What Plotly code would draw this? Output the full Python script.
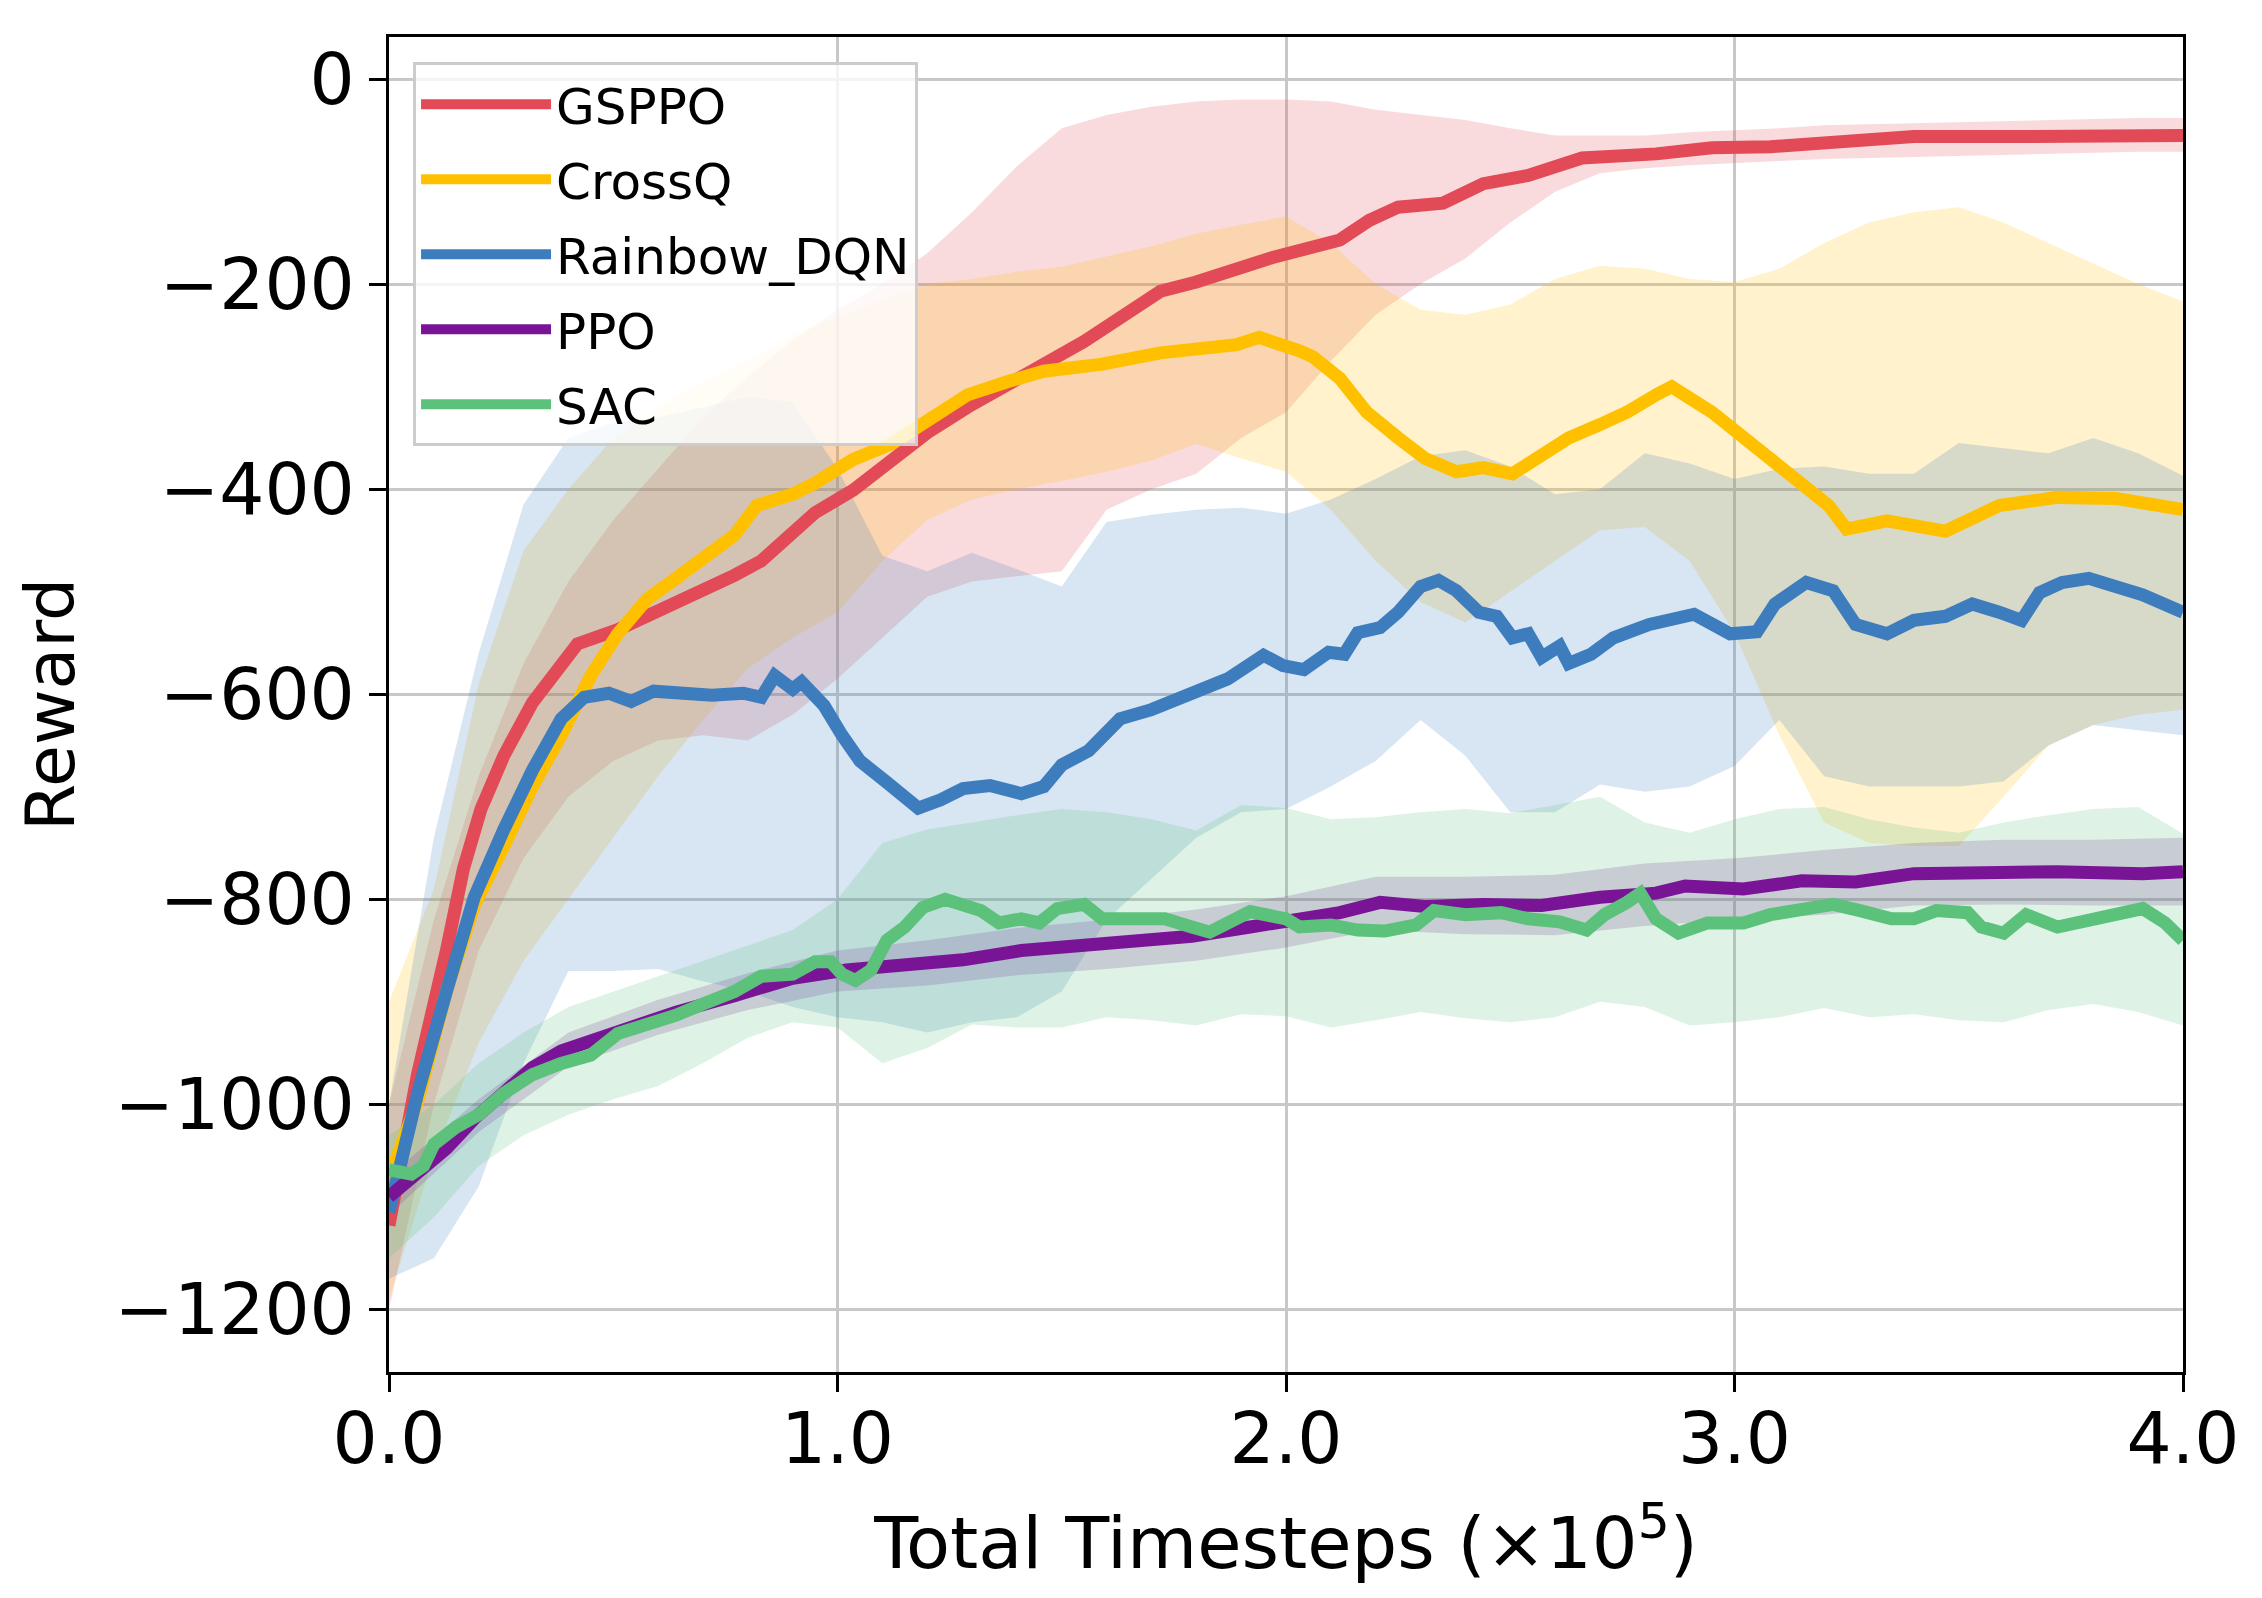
import plotly.graph_objects as go

# ---------------- data ----------------
SERIES = ["GSPPO", "CrossQ", "Rainbow_DQN", "PPO", "SAC"]

# mean curves
gsppo_x = [0, 0.032, 0.064, 0.128, 0.166, 0.205, 0.256, 0.32, 0.384, 0.42,
           0.51, 0.64, 0.694, 0.77, 0.83, 0.95, 1.035, 1.2, 1.29, 1.38,
           1.55, 1.72, 1.80, 1.97, 2.06, 2.12, 2.185, 2.25, 2.35, 2.44,
           2.54, 2.66, 2.825, 2.95, 3.08, 3.21, 3.40, 3.66, 4.0]
gsppo_y = [-1118, -1040, -970, -850, -770, -712, -660, -608, -570, -551,
           -537, -510, -502, -484, -470, -423, -401, -345, -320, -297,
           -256, -207, -198, -174, -165, -157, -138, -125, -121, -102,
           -94, -77, -73, -67, -66, -61, -56, -56, -55]

crossq_x = [0, 0.064, 0.128, 0.19, 0.256, 0.32, 0.384, 0.45, 0.51, 0.576,
            0.64, 0.694, 0.77, 0.82, 0.90, 0.95, 1.035, 1.12, 1.2, 1.29,
            1.38, 1.46, 1.59, 1.72, 1.89, 1.94, 2.03, 2.06, 2.12, 2.18,
            2.25, 2.31, 2.38, 2.44, 2.505, 2.57, 2.63, 2.70, 2.76, 2.825,
            2.86, 2.95, 3.02, 3.08, 3.15, 3.21, 3.25, 3.34, 3.47, 3.59,
            3.72, 3.85, 4.0]
crossq_y = [-1072, -997, -890, -806, -748, -690, -640, -582, -541, -507,
            -487, -468, -445, -416, -405, -394, -371, -356, -335, -308,
            -295, -285, -278, -267, -259, -252, -265, -271, -292, -325,
            -350, -370, -383, -379, -385, -366, -350, -337, -325, -308,
            -300, -325, -350, -370, -395, -416, -439, -431, -441, -416,
            -408, -409, -420]

rainbow_x = [0, 0.064, 0.128, 0.19, 0.256, 0.32, 0.384, 0.435, 0.49, 0.54,
             0.59, 0.64, 0.72, 0.79, 0.83, 0.86, 0.90, 0.92, 0.97, 1.01,
             1.05, 1.11, 1.18, 1.23, 1.28, 1.34, 1.41, 1.46, 1.50, 1.56,
             1.63, 1.70, 1.79, 1.87, 1.95, 1.993, 2.04, 2.095, 2.13, 2.16,
             2.21, 2.25, 2.30, 2.34, 2.38, 2.43, 2.47, 2.505, 2.54, 2.57,
             2.61, 2.63, 2.68, 2.73, 2.81, 2.91, 2.99, 3.05, 3.09, 3.16,
             3.22, 3.27, 3.34, 3.40, 3.47, 3.53, 3.59, 3.64, 3.68, 3.73,
             3.79, 3.85, 3.91, 4.0]
rainbow_y = [-1105, -989, -890, -798, -732, -674, -624, -603, -599, -607,
             -597, -599, -601, -599, -603, -582, -595, -588, -611, -640,
             -665, -686, -711, -703, -692, -689, -697, -690, -669, -655,
             -624, -615, -600, -585, -562, -572, -576, -559, -561, -540,
             -535, -520, -495, -489, -499, -520, -524, -545, -541, -564,
             -553, -570, -561, -545, -532, -522, -541, -539, -512, -491,
             -499, -532, -541, -528, -524, -512, -520, -528, -501, -491,
             -487, -495, -503, -520]

ppo_x = [0, 0.064, 0.128, 0.19, 0.256, 0.32, 0.384, 0.45, 0.51, 0.64,
         0.77, 0.90, 1.02, 1.15, 1.28, 1.41, 1.54, 1.66, 1.79, 1.92,
         2.0, 2.12, 2.21, 2.31, 2.44, 2.57, 2.70, 2.825, 2.89, 3.02,
         3.15, 3.27, 3.40, 3.53, 3.72, 3.91, 4.0]
ppo_y = [-1090, -1068, -1043, -1014, -989, -964, -948, -938, -927, -910,
         -894, -877, -869, -865, -859, -850, -846, -842, -836, -827,
         -822, -813, -803, -807, -805, -806, -798, -794, -787, -790,
         -782, -783, -775, -773, -773, -775, -773]

sac_x = [0, 0.05, 0.077, 0.10, 0.15, 0.20, 0.256, 0.32, 0.384, 0.45,
         0.51, 0.576, 0.64, 0.70, 0.77, 0.83, 0.90, 0.95, 0.985, 1.01,
         1.04, 1.075, 1.11, 1.15, 1.19, 1.24, 1.28, 1.32, 1.36, 1.41,
         1.45, 1.49, 1.55, 1.59, 1.64, 1.73, 1.79, 1.83, 1.92, 2.0,
         2.03, 2.10, 2.16, 2.22, 2.29, 2.33, 2.40, 2.48, 2.54, 2.61,
         2.67, 2.71, 2.76, 2.79, 2.825, 2.875, 2.94, 3.02, 3.08, 3.15,
         3.22, 3.28, 3.35, 3.40, 3.45, 3.52, 3.55, 3.60, 3.65, 3.72,
         3.81, 3.87, 3.91, 3.96, 4.0]
sac_y = [-1064, -1068, -1060, -1039, -1022, -1010, -989, -971, -960, -952,
         -931, -923, -913, -902, -890, -875, -873, -861, -861, -873,
         -879, -869, -840, -827, -808, -800, -807, -811, -823, -819,
         -823, -809, -805, -819, -819, -819, -827, -832, -812, -819,
         -827, -825, -830, -831, -825, -811, -815, -813, -819, -822,
         -830, -815, -803, -794, -819, -833, -823, -823, -815, -811,
         -805, -811, -819, -819, -811, -813, -827, -833, -815, -827,
         -819, -811, -809, -823, -840]

# shaded bands (upper / lower envelopes)
band_x = [0.0, 0.1, 0.2, 0.3, 0.4, 0.5, 0.6, 0.7, 0.8, 0.9,
          1.0, 1.1, 1.2, 1.3, 1.4, 1.5, 1.6, 1.7, 1.8, 1.9,
          2.0, 2.1, 2.2, 2.3, 2.4, 2.5, 2.6, 2.7, 2.8, 2.9,
          3.0, 3.1, 3.2, 3.3, 3.4, 3.5, 3.6, 3.7, 3.8, 3.9, 4.0]

gsppo_hi = [-1000, -820, -680, -570, -490, -430, -380, -330, -290, -255,
            -225, -200, -170, -130, -85, -48, -35, -27, -22, -20,
            -20, -22, -30, -35, -40, -48, -55, -55, -55, -52,
            -50, -48, -45, -44, -43, -42, -41, -40, -39, -38, -38]
gsppo_lo = [-1200, -1000, -850, -760, -700, -665, -645, -640, -645, -620,
            -585, -545, -505, -490, -485, -480, -420, -400, -385, -350,
            -325, -275, -230, -200, -175, -140, -110, -92, -87, -84,
            -82, -80, -78, -77, -76, -75, -74, -73, -72, -71, -71]

crossq_hi = [-900, -790, -590, -460, -400, -350, -320, -295, -275, -250,
             -232, -215, -200, -195, -188, -183, -173, -163, -151, -142,
             -134, -160, -200, -225, -230, -220, -195, -182, -185, -195,
             -198, -185, -160, -140, -130, -125, -140, -160, -180, -200, -217]
crossq_lo = [-1190, -1050, -940, -860, -800, -740, -680, -625, -575, -545,
             -520, -470, -430, -410, -400, -392, -383, -372, -356, -370,
             -383, -420, -470, -510, -530, -500, -470, -440, -437, -470,
             -540, -640, -725, -745, -748, -748, -700, -650, -630, -620, -615]

rainbow_hi = [-1000, -740, -560, -415, -350, -335, -330, -320, -310, -315,
              -380, -465, -480, -462, -478, -495, -432, -425, -420, -418,
              -424, -410, -390, -368, -362, -378, -405, -400, -365, -375,
              -390, -380, -378, -385, -385, -355, -360, -365, -350, -365, -387]
rainbow_lo = [-1170, -1150, -1080, -960, -870, -870, -868, -880, -890, -905,
              -915, -920, -930, -920, -915, -890, -820, -780, -740, -715,
              -712, -690, -665, -625, -660, -715, -715, -688, -695, -690,
              -670, -625, -680, -690, -690, -690, -685, -650, -630, -635, -640]

sac_hi = [-1030, -1000, -960, -930, -905, -890, -875, -860, -845, -830,
          -800, -745, -732, -725, -718, -712, -715, -722, -733, -708,
          -711, -722, -720, -715, -712, -716, -708, -700, -725, -735,
          -722, -712, -710, -722, -730, -735, -725, -718, -712, -710, -736]
sac_lo = [-1150, -1110, -1060, -1030, -1010, -995, -982, -960, -935, -920,
          -925, -960, -945, -922, -925, -925, -915, -918, -923, -912,
          -914, -925, -918, -910, -916, -920, -915, -900, -905, -923,
          -920, -915, -906, -915, -912, -918, -920, -908, -902, -910, -923]

ppo_band_x = [0.0, 0.2, 0.4, 0.6, 0.8, 1.0, 1.2, 1.4, 1.6, 1.8, 2.0,
              2.2, 2.4, 2.6, 2.8, 3.0, 3.2, 3.4, 3.6, 3.8, 4.0]
ppo_hi = [-1070, -995, -930, -898, -872, -850, -840, -828, -820, -810, -797,
          -778, -778, -776, -765, -760, -752, -745, -742, -742, -740]
ppo_lo = [-1108, -1027, -963, -932, -908, -890, -884, -874, -868, -860, -847,
          -830, -834, -835, -826, -820, -815, -806, -805, -806, -806]

x_ticks = [0, 1, 2, 3, 4]
y_ticks = [0, -200, -400, -600, -800, -1000, -1200]

# ---------------- styling ----------------
COLORS = {
    "GSPPO": (226, 74, 87),
    "CrossQ": (255, 192, 0),
    "Rainbow_DQN": (61, 125, 190),
    "PPO": (122, 20, 150),
    "SAC": (92, 194, 123),
}
FONT = "DejaVu Sans"

means = {
    "GSPPO": (gsppo_x, gsppo_y),
    "CrossQ": (crossq_x, crossq_y),
    "Rainbow_DQN": (rainbow_x, rainbow_y),
    "PPO": (ppo_x, ppo_y),
    "SAC": (sac_x, sac_y),
}
bands = {
    "GSPPO": (band_x, gsppo_lo, gsppo_hi),
    "CrossQ": (band_x, crossq_lo, crossq_hi),
    "Rainbow_DQN": (band_x, rainbow_lo, rainbow_hi),
    "PPO": (ppo_band_x, ppo_lo, ppo_hi),
    "SAC": (band_x, sac_lo, sac_hi),
}

fig = go.Figure()

for name in SERIES:
    bx, lo, hi = bands[name]
    r, g, b = COLORS[name]
    fig.add_trace(go.Scatter(
        x=list(bx) + list(bx)[::-1],
        y=list(hi) + list(lo)[::-1],
        fill="toself",
        fillcolor=f"rgba({r},{g},{b},0.2)",
        line=dict(width=0, color="rgba(0,0,0,0)"),
        mode="lines",
        hoverinfo="skip",
        showlegend=False,
    ))

for name in SERIES:
    mx, my = means[name]
    r, g, b = COLORS[name]
    fig.add_trace(go.Scatter(
        x=mx, y=my, mode="lines", name=name,
        legendgroup=name,
        line=dict(color=f"rgb({r},{g},{b})", width=13),
    ))

axis_common = dict(
    showline=True, linecolor="black", linewidth=3, mirror=True,
    ticks="outside", ticklen=17, tickwidth=3, tickcolor="black",
    showgrid=True, gridcolor="#c8c8c8", gridwidth=2.5,
    zeroline=False,
    tickfont=dict(family=FONT, size=71, color="black"),
)

fig.update_xaxes(
    range=[0, 4], tickvals=x_ticks, tickformat=".1f",
    ticklabelstandoff=-14,
    title=dict(text="Total Timesteps (×10<sup>5</sup>)",
               font=dict(family=FONT, size=72, color="black"), standoff=39),
    **axis_common,
)
fig.update_yaxes(
    range=[-1261, 41], tickvals=y_ticks,
    title=dict(text="Reward",
               font=dict(family=FONT, size=68, color="black"), standoff=18),
    **axis_common,
)

fig.update_layout(
    width=2262, height=1598,
    margin=dict(l=389, r=79, t=37, b=226, pad=0),
    plot_bgcolor="white", paper_bgcolor="white",
    font=dict(family=FONT, color="black"),
    legend=dict(
        x=0.0134, y=0.981, xanchor="left", yanchor="top",
        bgcolor="rgba(255,255,255,0.8)",
        bordercolor="rgb(204,204,204)", borderwidth=3,
        font=dict(family=FONT, size=50, color="black"),
        tracegroupgap=7, itemwidth=130,
    ),
    showlegend=True,
)

fig.write_html("out.html", config={"displayModeBar": False},
               post_script="document.body.style.margin='0px';")
